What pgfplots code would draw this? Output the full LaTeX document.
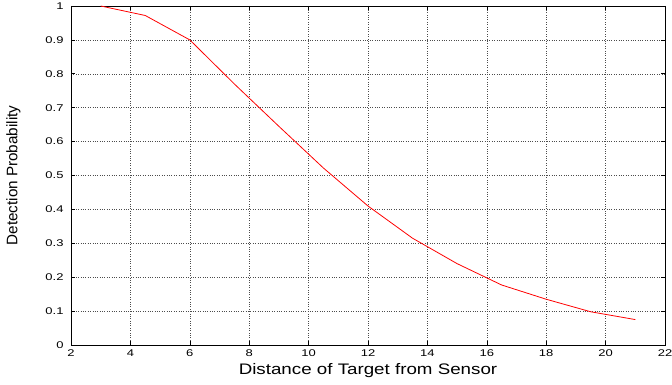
\documentclass[border=0pt]{standalone}
\usepackage{fontspec}
\setmainfont{Liberation Sans}
\usepackage{pgfplots}
\pgfplotsset{compat=1.18}
\newcommand{\tl}[1]{\scalebox{1.33}[1]{#1}}
\begin{document}
\begin{tikzpicture}
\begin{axis}[
  at={(0,0)}, anchor=south west,
  scale only axis,
  width=594bp, height=339bp,
  xmin=2, xmax=22, ymin=0, ymax=1,
  xtick={2,4,...,22},
  xticklabels={\tl{2},\tl{4},\tl{6},\tl{8},\tl{10},\tl{12},\tl{14},\tl{16},\tl{18},\tl{20},\tl{22}},
  ytick={0,0.1,...,1.0},
  yticklabels={\tl{0},\tl{0.1},\tl{0.2},\tl{0.3},\tl{0.4},\tl{0.5},\tl{0.6},\tl{0.7},\tl{0.8},\tl{0.9},\tl{1}},
  tick align=inside,
  tick style={black, line width=0.6pt},
  major tick length=4bp,
  axis line style={black, line width=0.8pt},
  grid=major,
  grid style={black!70, dotted, line width=0.5pt},
  ticklabel style={font=\fontsize{9.8}{10}\selectfont},
  xlabel={\scalebox{1.23}[1]{Distance of Target from Sensor}},
  ylabel={Detection Probability},
  label style={font=\fontsize{15.3}{16}\selectfont},
  xlabel style={at={(axis description cs:0.5,0)}, anchor=north, yshift=-15bp},
  ylabel style={at={(axis description cs:0,0.5)}, anchor=south, yshift=47bp},
  xticklabel style={yshift=-1bp},
  yticklabel style={xshift=-4bp},
]
\addplot[red, line width=0.8pt] coordinates {
(3,1.0) (4.5,0.972) (6,0.9) (7.5,0.77) (9,0.645) (10.5,0.522) (12,0.41)
(13.5,0.315) (15,0.24) (16.5,0.177) (18,0.135) (19.5,0.098) (21,0.075)
};
\end{axis}
\pgfresetboundingbox
\useasboundingbox (-71bp,-40bp) rectangle (601bp,345bp);
\end{tikzpicture}
\end{document}
